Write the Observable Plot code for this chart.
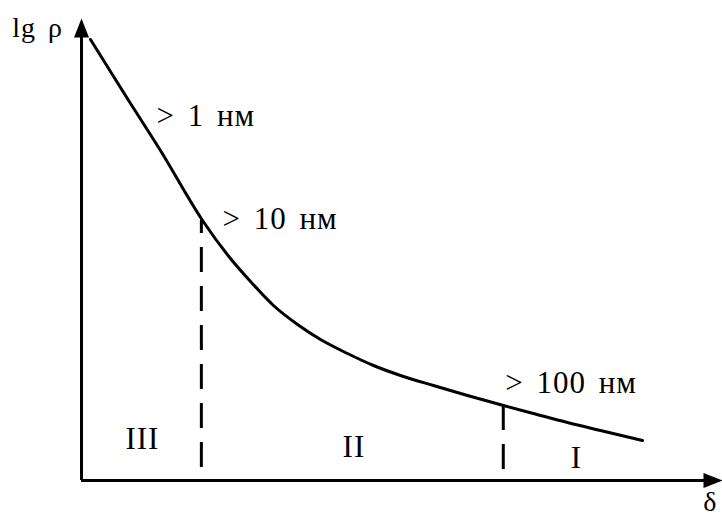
<!DOCTYPE html>
<html>
<head>
<meta charset="utf-8">
<script src="https://cdn.jsdelivr.net/npm/d3@7"></script>
<script src="https://cdn.jsdelivr.net/npm/@observablehq/plot@0.6"></script>
<style>
  html, body { margin: 0; padding: 0; background: #fff; }
</style>
</head>
<body>
<div id="chart"></div>
<script>
// Axis extents (abstract units)
const xMax = 100;
const yMax = 100;

// Curve lg ρ vs δ
const curveX = [1.4, 6.86, 12.32, 18.88, 23.24, 26.37, 29.95, 33.7, 37.29, 41.5, 45.55, 49.77, 54.91, 60.22, 65.83, 70.51, 75.82, 80.97, 87.52];
const curveY = [95.45, 83.33, 71.43, 56.28, 48.05, 43.07, 37.88, 33.77, 30.52, 27.49, 24.89, 22.73, 20.56, 18.4, 16.23, 14.5, 12.55, 10.82, 8.66];

// Region boundaries (dashed lines)
const boundaryX = [18.7, 65.8];
const boundaryY = [56.3, 16.23];

// Region labels
const regionLabels = ["III", "II", "I"];
const regionX = [9.5, 42.5, 77.2];
const regionY = [6.9, 5.0, 2.8];

// Size labels
const sizeLabels = ["> 1 нм", "> 10 нм", "> 100 нм"];
const sizeX = [11.7, 22.0, 66.1];
const sizeY = [76.8, 54.5, 19.0];

// Axis titles
const axisLabels = ["lg ρ", "δ"];
const axisLabelX = [-10.8, 97.0];
const axisLabelY = [95.9, -6.7];

const curve = curveX.map((x, i) => ({x, y: curveY[i]}));
const bounds = boundaryX.map((x, i) => ({x, y: boundaryY[i]}));
const regions = regionLabels.map((t, i) => ({t, x: regionX[i], y: regionY[i]}));
const sizes = sizeLabels.map((t, i) => ({t, x: sizeX[i], y: sizeY[i]}));
const axes = axisLabels.map((t, i) => ({t, x: axisLabelX[i], y: axisLabelY[i]}));
const arrows = [{x: 0, y: yMax, r: 0}, {x: xMax, y: 0, r: 90}];

// filled arrowhead symbol, tip at origin, pointing up
const arrowHead = {
  draw(ctx) {
    ctx.moveTo(0, 0);
    ctx.lineTo(-7.5, 19);
    ctx.lineTo(7.5, 19);
    ctx.closePath();
  }
};

const font = "'Liberation Serif', 'Times New Roman', serif";

const plot = Plot.plot({
  width: 722,
  height: 520,
  marginLeft: 81,
  marginRight: 0,
  marginTop: 18,
  marginBottom: 40,
  x: {domain: [0, xMax], axis: null},
  y: {domain: [0, yMax], axis: null},
  style: {background: "#fff", color: "#000", letterSpacing: "1px", wordSpacing: "4px"},
  marks: [
    Plot.ruleY([0], {x1: 0, x2: xMax - 2, stroke: "#000", strokeWidth: 3}),
    Plot.ruleX([0], {y1: 0, y2: yMax - 2, stroke: "#000", strokeWidth: 3}),
    Plot.dot(arrows, {x: "x", y: "y", rotate: "r", symbol: arrowHead, fill: "#000", stroke: null}),
    Plot.ruleX(bounds.slice(0, 1), {x: "x", y1: "y", y2: 0, stroke: "#000", strokeWidth: 3, strokeDasharray: "25,14", strokeDashoffset: 12}),
    Plot.ruleX(bounds.slice(1), {x: "x", y1: "y", y2: 0, stroke: "#000", strokeWidth: 3, strokeDasharray: "25,14", strokeDashoffset: 0}),
    Plot.line(curve, {x: "x", y: "y", curve: "monotone-x", stroke: "#000", strokeWidth: 3}),
    Plot.text(sizes, {x: "x", y: "y", text: "t", textAnchor: "start", lineAnchor: "bottom", fontSize: 31, fontFamily: font, fill: "#000"}),
    Plot.text(regions, {x: "x", y: "y", text: "t", textAnchor: "middle", lineAnchor: "bottom", fontSize: 31, fontFamily: font, fill: "#000"}),
    Plot.text(axes, {x: "x", y: "y", text: "t", textAnchor: "start", lineAnchor: "bottom", fontSize: 28, fontFamily: font, fill: "#000"})
  ]
});
document.getElementById("chart").appendChild(plot);
</script>
</body>
</html>
